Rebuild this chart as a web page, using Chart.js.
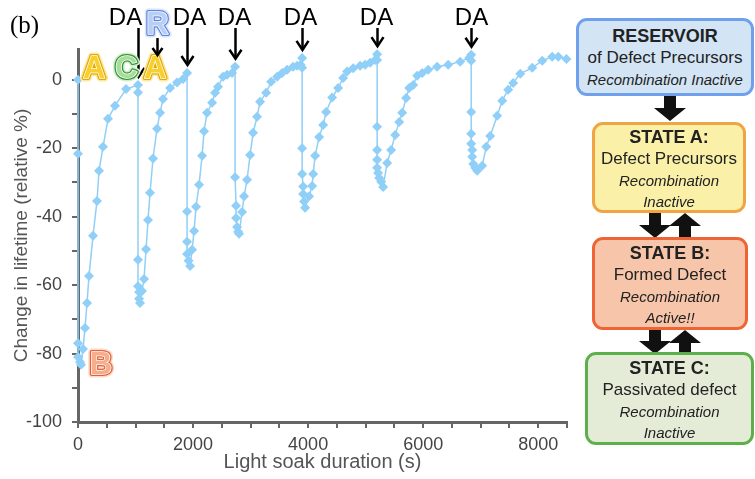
<!DOCTYPE html>
<html><head><meta charset="utf-8">
<script src="https://cdn.jsdelivr.net/npm/chart.js@4/dist/chart.umd.min.js"></script>
<style>
html,body{margin:0;padding:0;background:#fff;}
#wrap{position:relative;width:755px;height:479px;overflow:hidden;font-family:"Liberation Sans",Arial,sans-serif;}
#c{position:absolute;left:0;top:0;}
.box{position:absolute;box-sizing:border-box;border-radius:11px;border:3px solid;text-align:center;color:#222;font-size:17px;line-height:22px;white-space:nowrap;}
.b{font-weight:bold;font-size:18px;}
.i{font-style:italic;font-size:15px;}
#arrows{position:absolute;left:0;top:0;}
</style></head>
<body><div id="wrap"><canvas id="c" width="755" height="479"></canvas>
<svg id="arrows" width="755" height="479">
  <g fill="#111">
    <polygon points="664,96 676,96 676,108 686,108 670,121 654,108 664,108"/>
    <polygon points="649,213 661,213 661,225 671,225 655,238 639,225 649,225"/>
    <polygon points="679,238 691,238 691,226 701,226 685,213 669,226 679,226"/>
    <polygon points="649,330 661,330 661,341 671,341 655,354 639,341 649,341"/>
    <polygon points="679,354 691,354 691,343 701,343 685,330 669,343 679,343"/>
  </g>
</svg>
<div class="box" style="left:576px;top:18px;width:178px;height:78px;background:#d3e4f5;border-color:#6fa0ec;padding-top:4px">
  <div class="b">RESERVOIR</div><div>of Defect Precursors</div><div class="i">Recombination Inactive</div></div>
<div class="box" style="left:592px;top:122px;width:154px;height:91px;background:#fbf0a8;border-color:#f0a444;padding-top:1px">
  <div class="b">STATE A:</div><div>Defect Precursors</div><div class="i">Recombination</div><div class="i" style="line-height:19px">Inactive</div></div>
<div class="box" style="left:592px;top:237px;width:156px;height:93px;background:#f7c6aa;border-color:#ee6434;padding-top:2px">
  <div class="b">STATE B:</div><div>Formed Defect</div><div class="i">Recombination</div><div class="i" style="line-height:19px">Active!!</div></div>
<div class="box" style="left:585px;top:352px;width:169px;height:93px;background:#e4ecd8;border-color:#5cb04c;padding-top:2px">
  <div class="b">STATE C:</div><div>Passivated defect</div><div class="i">Recombination</div><div class="i" style="line-height:19px">Inactive</div></div>
</div>
<script>
// ---- data ----
const times = [
  0,0,0,0,35,52,87,122,157,191,261,330,365,435,522,643,835,1043,
  1043,1043,1043,1061,1061,1078,1113,1148,1183,1217,1252,1304,1374,1426,1478,1600,1722,1826,1896,
  1896,1896,1896,1922,1948,1983,2017,2052,2104,2157,2191,2243,2330,2383,2435,2522,2591,2678,2730,
  2730,2748,2748,2765,2783,2800,2852,2887,2939,2991,3043,3113,3165,3270,3357,3461,3548,3635,3739,3809,3870,
  3896,3896,3896,3896,3913,3913,3930,3948,4017,4070,4087,4122,4191,4261,4313,4417,4522,4609,4678,4783,4904,4991,5078,5165,
  5200,5200,5200,5200,5200,5200,5217,5235,5270,5304,5374,5443,5513,5583,5635,5704,5757,5826,5896,5983,6087,6243,6435,6643,6800,
  6835,6835,6835,6835,6835,6852,6852,6870,6904,6939,7026,7096,7165,7287,7374,7478,7565,7687,7896,8070,8243,8348,8490
];
const lifetime = [
  0,-21.6,-77,-81,-82.5,-83.3,-78.7,-72.5,-65.2,-57.3,-45.6,-35.4,-26.6,-19.6,-11.4,-7.6,-2.7,-1.5,
  -3.7,-52.6,-60.3,-62,-64,-65.2,-61.7,-58.2,-49.5,-41,-33,-23,-14.3,-9.6,-5.6,-2.4,-0.8,0.2,2,
  -38.5,-47.3,-50.9,-52.9,-54.4,-49.7,-44.2,-37.1,-30.7,-22.2,-15,-9.6,-6.7,-3.8,-2,0.9,1.5,2,3.8,
  -28.5,-36.8,-40.4,-43,-44.4,-45,-38.6,-34,-29.2,-22,-15.5,-10.8,-6.4,-3.8,-0.6,0.9,2,2.9,3.8,4.1,4.4,
  6.4,3.5,-20,-27.5,-31.2,-33.4,-35.6,-37.4,-34,-31,-27.5,-22.2,-16.7,-13.2,-9.4,-5.2,-2.4,0.5,2.4,3.4,4.1,4.4,5,5.8,
  7.5,5.8,-13.7,-20.5,-23.4,-25.7,-27.2,-28.7,-29.8,-31.3,-24.3,-20.5,-16.1,-12.3,-9.6,-5.3,-2.4,-1.5,1.2,2,2.9,3.8,4.4,5.3,6.4,
  7.3,5.6,-9.4,-15.8,-18.7,-20.5,-22.5,-24.6,-25.7,-26.6,-25.1,-19.6,-16.4,-10.5,-6.1,-2.9,-0.9,1.8,3.5,5.6,6.7,6.7,6.1
];
const daTimes = [1043, 1896, 2730, 3896, 5200, 6835];
const daLabel = 'DA';
const stateLetters = ['A', 'C', 'A', 'R', 'B'];
const letterTimes = [280, 840, 1340, 1380, 400];
const letterValues = [3, 3, 3, 16, -83.5];
const yTickValues = [-100,-90,-80,-70,-60,-50,-40,-30,-20,-10,0];
const xTickValues = [0,500,1000,1500,2000,2500,3000,3500,4000,4500,5000,5500,6000,6500,7000,7500,8000,8500];
const xTitle = 'Light soak duration (s)';
const yTitle = 'Change in lifetime (relative %)';
const panelLabel = '(b)';

// ---- styles for the letter annotations ----
const letterStyle = {
  A: {stroke:'#e6a800', fill:'#f7cf2e', glow:'#fbe9a0'},
  C: {stroke:'#2c9636', fill:'#a9dc98', glow:'#d3edca'},
  R: {stroke:'#5a85e0', fill:'#b9cef5', glow:'#dbe5fa'},
  B: {stroke:'#e6603a', fill:'#f6ad8c', glow:'#fadbcc'}
};
const daShift = [-13, 2, -1, -2, -1, 0];

const annot = {
  id: 'annot',
  afterDatasetsDraw(chart) {
    const {ctx, scales: {x, y}} = chart;
    ctx.save();
    ctx.fillStyle = '#000';
    ctx.font = '25px "Liberation Serif", serif';
    ctx.textAlign = 'left'; ctx.textBaseline = 'alphabetic';
    ctx.fillText(panelLabel, 10, 33);

    function arrow(px, y0, y1, lw, hw, hl) {
      ctx.strokeStyle = '#000'; ctx.lineWidth = lw; ctx.lineCap = 'butt'; ctx.lineJoin = 'miter';
      ctx.beginPath(); ctx.moveTo(px, y0); ctx.lineTo(px, y1 - 1); ctx.stroke();
      ctx.beginPath(); ctx.moveTo(px - hw, y1 - hl); ctx.lineTo(px, y1); ctx.lineTo(px + hw, y1 - hl); ctx.stroke();
    }
    daTimes.forEach((t, i) => {
      let top = -Infinity;
      times.forEach((tt, j) => { if (tt === t) top = Math.max(top, lifetime[j]); });
      const px = Math.round(x.getPixelForValue(t)) + 0.5;
      const tip = y.getPixelForValue(top) - 8;
      ctx.fillStyle = '#000';
      ctx.font = '24px "Liberation Sans", Arial, sans-serif';
      ctx.textAlign = 'center'; ctx.textBaseline = 'alphabetic';
      ctx.fillText(daLabel, px + daShift[i], 25);
      arrow(px, 28, tip, 2.5, 6, 9);
    });

    stateLetters.forEach((L, i) => {
      const px = x.getPixelForValue(letterTimes[i]);
      const py = y.getPixelForValue(letterValues[i]);
      const s = letterStyle[L];
      ctx.font = 'bold 31px "Liberation Sans", Arial, sans-serif';
      ctx.textAlign = 'center'; ctx.textBaseline = 'middle';
      ctx.lineJoin = 'round';
      ctx.strokeStyle = s.glow; ctx.lineWidth = 7; ctx.strokeText(L, px, py);
      ctx.strokeStyle = s.stroke; ctx.lineWidth = 4; ctx.strokeText(L, px, py);
      ctx.strokeStyle = '#ffffff'; ctx.lineWidth = 1.5; ctx.strokeText(L, px, py);
      ctx.fillStyle = s.fill; ctx.fillText(L, px, py);
      if (L === 'R') arrow(Math.round(px) + 0.5, py + 13, py + 30, 2.5, 5, 7);
    });
    ctx.restore();
  }
};

new Chart(document.getElementById('c'), {
  type: 'line',
  data: {
    datasets: [{
      data: times.map((t, i) => ({x: t, y: lifetime[i]})),
      borderColor: '#90cff7',
      backgroundColor: '#90cff7',
      borderWidth: 1.5,
      pointStyle: 'rectRot',
      pointRadius: 5,
      pointBorderWidth: 0,
      tension: 0,
      clip: false
    }]
  },
  options: {
    responsive: false,
    animation: false,
    layout: {padding: {top: 49, right: 188, bottom: 0, left: 0}},
    plugins: {legend: {display: false}, tooltip: {enabled: false}},
    scales: {
      x: {
        type: 'linear', min: 0, max: 8500,
        afterBuildTicks: s => { s.ticks = xTickValues.map(v => ({value: v})); },
        afterFit: s => { s.height = 57; },
        ticks: {
          autoSkip: false, maxRotation: 0, padding: 6, color: '#444',
          font: {family: '"Liberation Sans", Arial, sans-serif', size: 18},
          callback: v => (v % 2000 === 0 ? String(v) : '')
        },
        grid: {display: true, drawOnChartArea: false, drawTicks: true, tickLength: 6, color: '#666', lineWidth: 2},
        border: {display: true, color: '#666', width: 3},
        title: {display: true, text: xTitle, color: '#555', padding: {top: 0, bottom: 5},
          font: {family: '"Liberation Sans", Arial, sans-serif', size: 20}}
      },
      y: {
        type: 'linear', min: -100, max: 9,
        afterBuildTicks: s => { s.ticks = yTickValues.map(v => ({value: v})); },
        afterFit: s => { s.width = 78; },
        ticks: {
          autoSkip: false, padding: 10, color: '#444',
          font: {family: '"Liberation Sans", Arial, sans-serif', size: 18},
          callback: v => (v % 20 === 0 ? String(v) : '')
        },
        grid: {display: true, drawOnChartArea: false, drawTicks: true, tickLength: 6, color: '#666', lineWidth: 2},
        border: {display: true, color: '#666', width: 3},
        title: {display: true, text: yTitle, color: '#555', padding: {top: 10, bottom: 0},
          font: {family: '"Liberation Sans", Arial, sans-serif', size: 19}}
      }
    }
  },
  plugins: [annot]
});
</script>
</body></html>
